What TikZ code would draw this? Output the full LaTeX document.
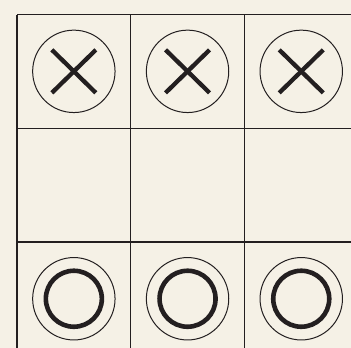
\documentclass[tikz,border=0pt]{standalone}
\usetikzlibrary{calc}
\definecolor{bg}{HTML}{F5F1E6}
\definecolor{ink}{HTML}{231F20}
\begin{document}
\begin{tikzpicture}[x=1pt,y=-1pt,
  gridline/.style={draw=ink,line width=1.2pt},
  ring/.style={draw=ink,line width=1pt},
  xmark/.style={draw=ink,line width=4.3pt},
  omark/.style={draw=ink,line width=4.6pt}]
\fill[bg] (0,0) rectangle (351,348);
\useasboundingbox (0,0) rectangle (351,348);
\def\cs{113.7}
\foreach \i in {0,1,2,3}{
  \draw[gridline] (17+\i*\cs,14.5) -- (17+\i*\cs,360);
  \draw[gridline] (17,14.5+\i*\cs) -- (360,14.5+\i*\cs);
}
\foreach \c in {0,1,2}{
  \coordinate (t\c) at (73.85+\c*\cs,71.35);
  \coordinate (b\c) at (73.85+\c*\cs,298.75);
  \draw[ring] (t\c) circle (41.2);
  \draw[xmark] ($(t\c)+(-22,-21.5)$) -- ($(t\c)+(22,21.5)$);
  \draw[xmark] ($(t\c)+(-22,21.5)$) -- ($(t\c)+(22,-21.5)$);
  \draw[ring] (b\c) circle (41.2);
  \draw[omark] (b\c) circle (28);
}
\end{tikzpicture}
\end{document}
